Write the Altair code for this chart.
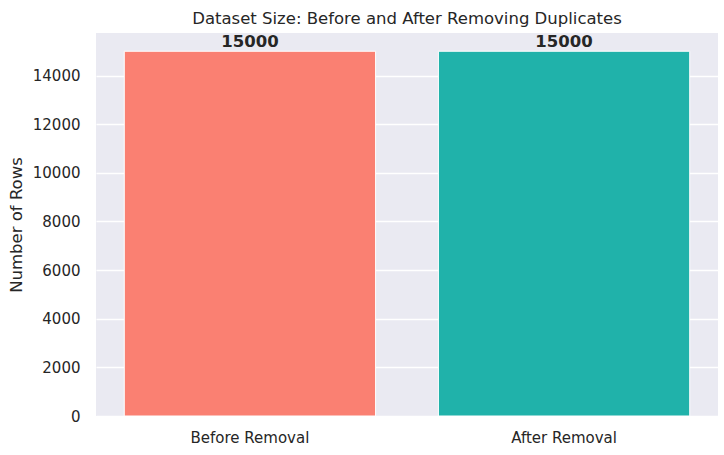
import altair as alt
import pandas as pd

categories = ["Before Removal", "After Removal"]
rows = [15000, 15000]
colors = ["#FA8072", "#20B2AA"]

df = pd.DataFrame({"stage": categories, "rows": rows, "color": colors})

FONT = "DejaVu Sans"

base = alt.Chart(df).encode(
    x=alt.X(
        "stage:N",
        sort=categories,
        scale=alt.Scale(paddingInner=0.2, paddingOuter=0.09),
        axis=alt.Axis(
            title=None, labelAngle=0, labelFontSize=15, labelColor="#262626",
            labelFont=FONT, ticks=False, domain=False, grid=False, labelPadding=14,
        ),
    ),
    y=alt.Y(
        "rows:Q",
        scale=alt.Scale(domain=[0, 15750], nice=False, zero=True),
        axis=alt.Axis(
            title="Number of Rows", titleFontSize=16.5, titleFont=FONT,
            titleFontWeight="normal", titleColor="#262626", titlePadding=8,
            labelFontSize=15, labelFont=FONT, labelColor="#262626", format="d",
            values=list(range(0, 15000, 2000)), ticks=False, domain=False,
            gridColor="white", gridWidth=1.5, gridOpacity=1, labelPadding=16,
        ),
    ),
)

bars = base.mark_bar(stroke="white", strokeWidth=1).encode(
    color=alt.Color("color:N", scale=None)
)

labels = base.mark_text(
    baseline="bottom", dy=-1, fontWeight="bold", fontSize=16.5, font=FONT, color="#262626"
).encode(text=alt.Text("rows:Q", format="d"))

chart = (
    (bars + labels)
    .properties(
        width=622,
        height=383,
        background="white",
        title=alt.TitleParams(
            "Dataset Size: Before and After Removing Duplicates",
            fontSize=16.5, font=FONT, fontWeight="normal", color="#262626", offset=6,
        ),
        autosize=alt.AutoSizeParams(type="none"),
        padding={"left": 96, "top": 33, "right": 6, "bottom": 39},
    )
    .configure_view(fill="#EAEAF2", strokeWidth=0)
)

chart.save("out.html", embed_options={"renderer": "svg", "actions": False})
